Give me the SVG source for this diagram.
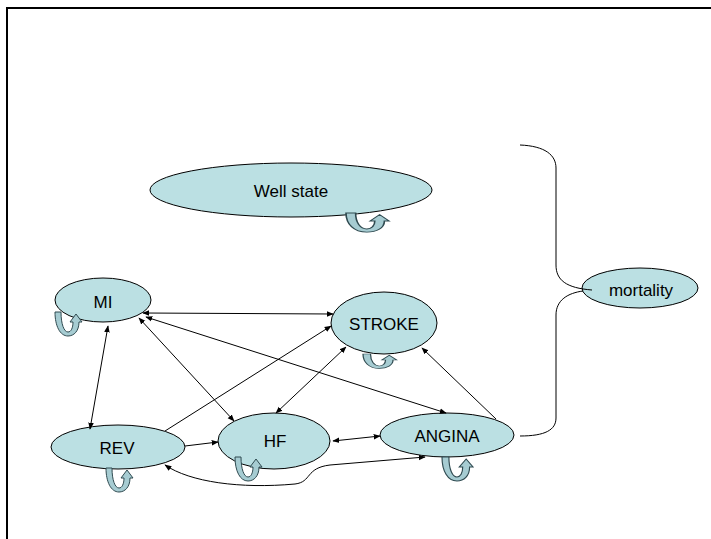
<svg xmlns="http://www.w3.org/2000/svg" width="711" height="539" viewBox="0 0 711 539">
<defs>
<marker id="ah" viewBox="0 0 10 10" refX="9" refY="5" markerWidth="7" markerHeight="7" markerUnits="userSpaceOnUse" orient="auto-start-reverse">
<path d="M0,1 L10,5 L0,9 Z" fill="#000"/>
</marker>
<path id="loop" d="M0,0 L6,0 C6,12 9,20 13,20 C16,20 18,16 18,10 L15,10 L21,2 L27,10 L24,10 C24,19 19,24 13,24 C5,24 0,14 0,0 Z"/>
</defs>
<style>
.node{fill:#BBE0E3;stroke:#000;stroke-width:1}
.lbl{font-family:"Liberation Sans",Arial,sans-serif;font-size:17px;fill:#000;text-anchor:middle}
.lp{fill:#A6CCD2;stroke:#2F4A50;stroke-width:1}
.c{fill:none;stroke:#000;stroke-width:1}
.ab{marker-start:url(#ah);marker-end:url(#ah)}
.ae{marker-end:url(#ah)}
</style>
<rect x="7" y="8" width="720" height="540" fill="#fff" stroke="#000" stroke-width="2"/>
<g id="well">
<ellipse class="node" cx="291" cy="190" rx="141" ry="27"/>
<text class="lbl" x="291" y="197">Well state</text>
<use href="#loop" class="lp" transform="translate(346,213) scale(1.6,0.8)"/>
</g>
<g id="mi">
<ellipse class="node" cx="103" cy="300" rx="48" ry="22"/>
<text class="lbl" x="103" y="308">MI</text>
<use href="#loop" class="lp" transform="translate(55,312)"/>
</g>
<g id="stroke">
<ellipse class="node" cx="384" cy="323" rx="53" ry="31"/>
<text class="lbl" x="384" y="330">STROKE</text>
<use href="#loop" class="lp" transform="translate(363,354) scale(1.25,0.6)"/>
</g>
<g id="mortality">
<ellipse class="node" cx="640" cy="288" rx="58" ry="20"/>
<text class="lbl" x="641" y="296">mortality</text>
</g>
<g id="rev">
<ellipse class="node" cx="118" cy="447" rx="67" ry="22"/>
<text class="lbl" x="117" y="454">REV</text>
<use href="#loop" class="lp" transform="translate(106,468)"/>
</g>
<g id="hf">
<ellipse class="node" cx="274" cy="441" rx="56" ry="28"/>
<text class="lbl" x="275" y="447">HF</text>
<use href="#loop" class="lp" transform="translate(235,457)"/>
</g>
<g id="angina">
<ellipse class="node" cx="447" cy="435" rx="67" ry="22"/>
<text class="lbl" x="447" y="442">ANGINA</text>
<use href="#loop" class="lp" transform="translate(442,457) scale(1.15,1)"/>
</g>
<g id="connectors">
<path class="c ab" d="M143,313 L333,314"/>
<path class="c ab" d="M139,318 L234,421"/>
<path class="c ab" d="M146,317 L446,413"/>
<path class="c ab" d="M108,326 L90,429"/>
<path class="c ae" d="M165,431 L331,326"/>
<path class="c ae" d="M185,446 L218,442"/>
<path class="c ab" d="M276,413 L346,347"/>
<path class="c ae" d="M496,419 L422,348"/>
<path class="c ab" d="M333,441 L380,436"/>
<path class="c ab" d="M165,465 C190,482 240,489 295,484 C312,482 305,468 330,465 L425,457"/>
<path class="c" d="M520,145 C545,146 556,155 556,168 L556,265 C556,280 566,288 592,290"/>
<path class="c" d="M583,291 C568,293 556,300 556,315 L556,418 C556,430 545,436 520,436"/>
</g>
</svg>
